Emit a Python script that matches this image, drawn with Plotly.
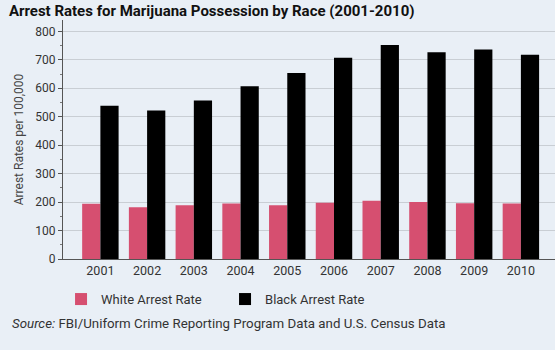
import plotly.graph_objects as go

years = ["2001", "2002", "2003", "2004", "2005", "2006", "2007", "2008", "2009", "2010"]
white_rate = [194, 182, 189, 195, 189, 198, 205, 200, 196, 195]
black_rate = [539, 522, 557, 607, 654, 707, 752, 727, 736, 718]

BG = "#e9eff6"
PINK = "#d64f70"
FONT = "Roboto"

fig = go.Figure()
fig.add_trace(go.Bar(x=years, y=white_rate, name="White Arrest Rate",
                     marker=dict(color=PINK, line=dict(width=0))))
fig.add_trace(go.Bar(x=years, y=black_rate, name="Black Arrest Rate",
                     marker=dict(color="#000000", line=dict(width=0))))

fig.update_layout(
    width=555, height=350,
    paper_bgcolor=BG, plot_bgcolor=BG,
    margin=dict(l=63, r=0, t=20, b=91),
    barmode="group", bargap=0.22, bargroupgap=0,
    font=dict(family=FONT, size=12.5, color="#333333"),
    title=dict(text="<b>Arrest Rates for Marijuana Possession by Race (2001-2010)</b>",
               x=0.016, xanchor="left", y=0.985, yanchor="top",
               font=dict(family=FONT, size=15, color="#111111")),
    legend=dict(orientation="h", x=-0.004, xanchor="left", y=-0.105, yanchor="top",
                font=dict(family=FONT, size=13, color="#333333"),
                itemwidth=30, entrywidth=119, entrywidthmode="pixels",
                traceorder="normal", bgcolor="rgba(0,0,0,0)"),
    showlegend=True,
)

fig.update_xaxes(
    type="category", range=[-0.8, 9.73],
    showgrid=False, showline=True, linecolor="#555555", linewidth=1,
    ticks="", tickfont=dict(size=12.5, color="#333333"),
)
fig.update_yaxes(
    range=[0, 840], dtick=100, tick0=0,
    showgrid=True, gridcolor="#c9ced4", gridwidth=1,
    showline=True, linecolor="#555555", linewidth=1,
    ticks="outside", ticklen=4, tickcolor="#555555",
    minor=dict(dtick=50, tick0=0, ticks="outside", ticklen=2, tickcolor="#777777", showgrid=False),
    tickfont=dict(size=12, color="#333333"),
    title=dict(text="Arrest Rates per 100,000", font=dict(size=12, color="#444444"), standoff=9),
    zeroline=False,
)

fig.add_annotation(
    text="<i>Source:</i> FBI/Uniform Crime Reporting Program Data and U.S. Census Data",
    xref="paper", yref="paper", x=-0.108, y=-0.232, xanchor="left", yanchor="top",
    showarrow=False, font=dict(family=FONT, size=13.3, color="#333333"),
)

fig.write_html("out.html")
